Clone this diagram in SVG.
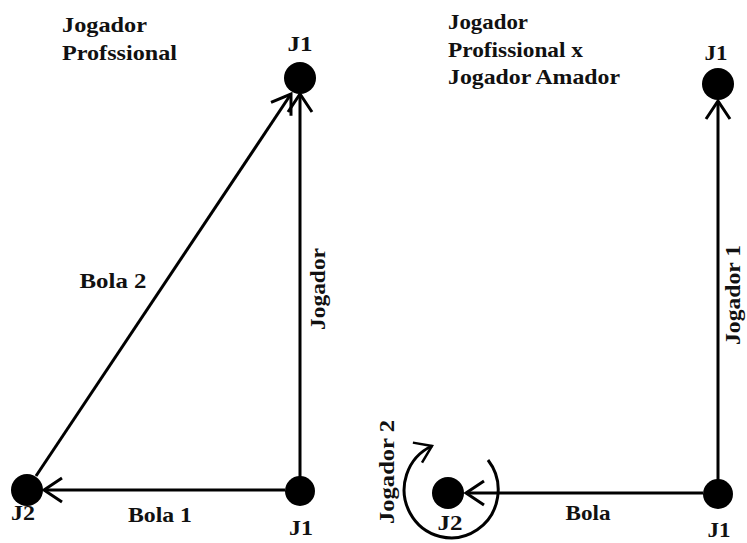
<svg xmlns="http://www.w3.org/2000/svg" width="747" height="543" viewBox="0 0 747 543">
<style>
  text { font-family: "Liberation Serif", "Times New Roman", serif; font-weight: 700; font-size: 21px; fill: #111; }
  .mid { text-anchor: middle; }
  .node { fill: #000; }
  .edge { stroke: #000; stroke-width: 3; fill: none; }
</style>
<defs>
  <marker id="arrow" markerUnits="userSpaceOnUse" markerWidth="30" markerHeight="30" viewBox="-20 -15 24 30" refX="0" refY="0" orient="auto">
    <path d="M-18,-12 L0,0 L-18,12" fill="none" stroke="#000" stroke-width="3"/>
  </marker>
  <marker id="arrowS" markerUnits="userSpaceOnUse" markerWidth="30" markerHeight="30" viewBox="-20 -15 24 30" refX="0" refY="0" orient="auto">
    <path d="M-16,-11 L0,0 L-16,11" fill="none" stroke="#000" stroke-width="2.5"/>
  </marker>
</defs>
<rect width="747" height="543" fill="#fff"/>

<g id="titles">
  <text x="62" y="32" textLength="85" lengthAdjust="spacingAndGlyphs">Jogador</text>
  <text x="62" y="60" textLength="115" lengthAdjust="spacingAndGlyphs">Profssional</text>
  <text x="448" y="29" textLength="80" lengthAdjust="spacingAndGlyphs">Jogador</text>
  <text x="448" y="57" textLength="135" lengthAdjust="spacingAndGlyphs">Profissional x</text>
  <text x="448" y="84" textLength="172" lengthAdjust="spacingAndGlyphs">Jogador Amador</text>
</g>

<g id="connectors">
  <line class="edge" x1="300" y1="480" x2="300" y2="94" marker-end="url(#arrow)"/>
  <line class="edge" x1="36" y1="476" x2="291" y2="94" marker-end="url(#arrow)"/>
  <line class="edge" x1="285" y1="490" x2="44" y2="490" marker-end="url(#arrow)"/>
  <line class="edge" x1="718" y1="482" x2="718" y2="101" marker-end="url(#arrow)"/>
  <line class="edge" x1="703" y1="493" x2="466" y2="493" marker-end="url(#arrow)"/>
  <path class="edge" stroke-width="2.5" d="M488,460 A47,48 0 1 1 432,446" marker-end="url(#arrowS)"/>
  <text class="mid" x="113" y="288" textLength="67" lengthAdjust="spacingAndGlyphs">Bola 2</text>
  <text class="mid" x="160" y="522" textLength="64" lengthAdjust="spacingAndGlyphs">Bola 1</text>
  <text class="mid" x="588" y="520" textLength="45" lengthAdjust="spacingAndGlyphs">Bola</text>
  <text class="mid" transform="translate(325,289) rotate(-90)" textLength="82" lengthAdjust="spacingAndGlyphs">Jogador</text>
  <text class="mid" transform="translate(740,295) rotate(-90)" textLength="100" lengthAdjust="spacingAndGlyphs">Jogador 1</text>
  <text class="mid" transform="translate(394,472) rotate(-90)" textLength="104" lengthAdjust="spacingAndGlyphs">Jogador 2</text>
</g>

<g id="left-j1-top">
  <circle class="node" cx="300" cy="78" r="16"/>
  <text class="mid" x="300" y="51" textLength="25" lengthAdjust="spacingAndGlyphs">J1</text>
</g>
<g id="left-j1-bottom">
  <circle class="node" cx="300" cy="491" r="15"/>
  <text class="mid" x="301" y="535" textLength="24" lengthAdjust="spacingAndGlyphs">J1</text>
</g>
<g id="left-j2">
  <circle class="node" cx="27" cy="490" r="16"/>
  <text class="mid" x="23" y="520" textLength="24" lengthAdjust="spacingAndGlyphs">J2</text>
</g>
<g id="right-j1-top">
  <circle class="node" cx="718" cy="84" r="16"/>
  <text class="mid" x="716" y="60" textLength="23" lengthAdjust="spacingAndGlyphs">J1</text>
</g>
<g id="right-j1-bottom">
  <circle class="node" cx="718" cy="494" r="15"/>
  <text class="mid" x="719" y="537" textLength="23" lengthAdjust="spacingAndGlyphs">J1</text>
</g>
<g id="right-j2">
  <circle class="node" cx="448" cy="493" r="16"/>
  <text class="mid" x="450" y="530" textLength="25" lengthAdjust="spacingAndGlyphs">J2</text>
</g>
</svg>
